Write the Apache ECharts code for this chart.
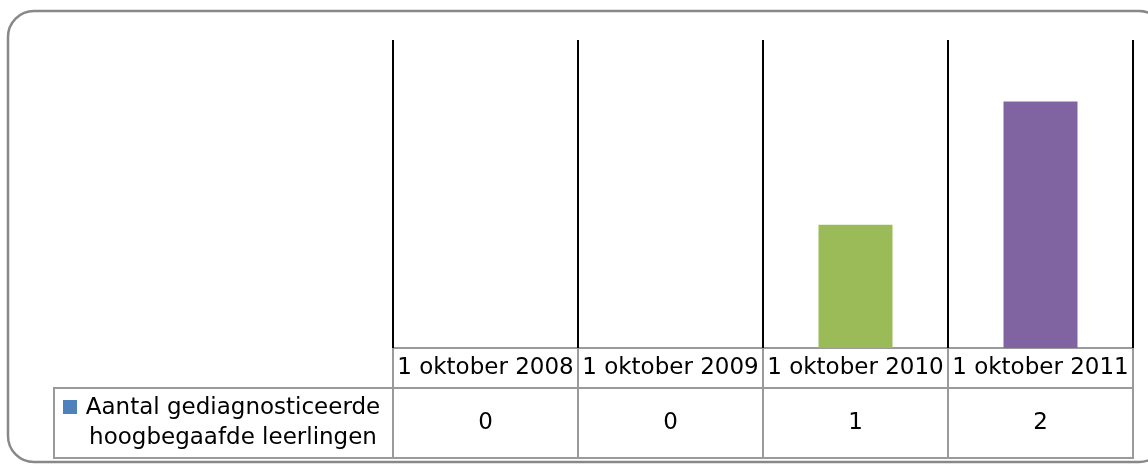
<!DOCTYPE html>
<html>
<head>
<meta charset="utf-8">
<script src="https://cdn.jsdelivr.net/npm/echarts@6/dist/echarts.min.js"></script>
<style>
  html, body { margin: 0; padding: 0; background: #fff; }
  #chart { width: 1148px; height: 464px; }
</style>
</head>
<body>
<div id="chart"></div>
<script>
// gegevens
const categories = ['1 oktober 2008', '1 oktober 2009', '1 oktober 2010', '1 oktober 2011'];
const values = [0, 0, 1, 2];
const barColors = ['#4f81bd', '#c0504d', '#9bbb59', '#8064a2'];
const seriesName = 'Aantal gediagnosticeerde\nhoogbegaafde leerlingen';

const font = 'DejaVu Sans';
const gridLeft = 393, gridRight = 15, gridTop = 40, gridBottom = 116;
const plotRight = 1148 - gridRight;
const colW = (plotRight - gridLeft) / categories.length;
const tableTop = 464 - gridBottom; // 348
const headH = 40, rowH = 70, legendLeft = 54;
const gridColor = '#9a9a9a';

let myChart = echarts.init(document.getElementById('chart'));

// tabel onder de grafiek
let graphics = [];
// afgeronde rand
graphics.push({
    type: 'rect', silent: true,
    shape: {x: 8, y: 11, width: 1157, height: 451, r: 26},
    style: {fill: 'none', stroke: '#888', lineWidth: 2.5}
});
// kopregel
graphics.push({
    type: 'rect', silent: true,
    shape: {x: gridLeft, y: tableTop, width: plotRight - gridLeft, height: headH},
    style: {fill: 'none', stroke: gridColor, lineWidth: 2}
});
// dataregel
graphics.push({
    type: 'rect', silent: true,
    shape: {x: legendLeft, y: tableTop + headH, width: plotRight - legendLeft, height: rowH},
    style: {fill: 'none', stroke: gridColor, lineWidth: 2}
});
for (let i = 1; i < categories.length; i++) {
    graphics.push({
        type: 'line', silent: true,
        shape: {x1: gridLeft + colW * i, y1: tableTop, x2: gridLeft + colW * i, y2: tableTop + headH + rowH},
        style: {stroke: gridColor, lineWidth: 2}
    });
}
graphics.push({
    type: 'line', silent: true,
    shape: {x1: gridLeft, y1: tableTop + headH, x2: gridLeft, y2: tableTop + headH + rowH},
    style: {stroke: gridColor, lineWidth: 2}
});
// legendasleutel
graphics.push({
    type: 'rect', silent: true,
    shape: {x: 63, y: 400, width: 14, height: 14},
    style: {fill: barColors[0]}
});
graphics.push({
    type: 'text', silent: true,
    x: 233, y: tableTop + headH + rowH / 2,
    style: {
        text: seriesName, font: '23px "' + font + '"', fill: '#000',
        align: 'center', verticalAlign: 'middle', lineHeight: 30
    }
});

let option = {
    animation: false,
    backgroundColor: '#fff',
    grid: {left: gridLeft, right: gridRight, top: gridTop, bottom: gridBottom},
    xAxis: [{
        type: 'category',
        position: 'bottom',
        data: categories,
        axisLine: {show: false},
        axisTick: {show: false},
        axisLabel: {
            interval: 0, margin: 20, verticalAlign: 'middle',
            fontFamily: font, fontSize: 23, color: '#000'
        },
        splitLine: {show: true, interval: 0, lineStyle: {color: '#000', width: 2}}
    }, {
        type: 'category',
        position: 'bottom',
        data: categories,
        axisLine: {show: false},
        axisTick: {show: false},
        axisLabel: {
            interval: 0, margin: 75, verticalAlign: 'middle',
            fontFamily: font, fontSize: 23, color: '#000',
            formatter: function (v, idx) { return String(values[idx]); }
        },
        splitLine: {show: false}
    }],
    yAxis: {
        type: 'value', min: 0, max: 2.5,
        show: false
    },
    series: [{
        type: 'bar',
        barWidth: '40%',
        data: values.map(function (v, i) {
            return {value: v, itemStyle: {color: barColors[i]}};
        })
    }],
    graphic: graphics
};
myChart.setOption(option);
</script>
</body>
</html>
